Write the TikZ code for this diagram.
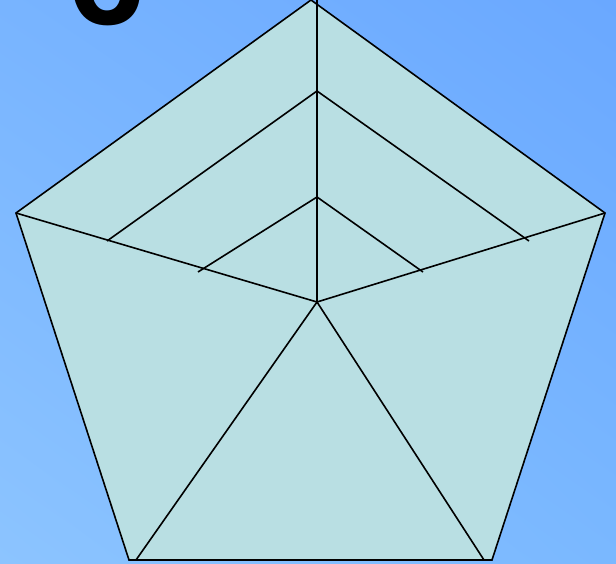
\documentclass[tikz,border=0pt]{standalone}
\usepackage{fontspec}
\setmainfont{Liberation Sans}
\usetikzlibrary{calc,shadings}
\definecolor{SkyTL}{RGB}{120,180,255}
\definecolor{SkyTR}{RGB}{106,168,255}
\definecolor{SkyBL}{RGB}{140,196,255}
\definecolor{SkyBR}{RGB}{122,184,255}
\definecolor{PaleCyan}{RGB}{185,223,227}
\begin{document}
\begin{tikzpicture}[x=1pt, y=-1pt, line join=miter]
		\useasboundingbox (0,0) rectangle (616,564);
		\shade[upper left=SkyTL, upper right=SkyTR, lower left=SkyBL, lower right=SkyBR] (0,0) rectangle (616,564);
		\node[anchor=base, inner sep=0pt, font=\fontsize{140}{140}\selectfont\bfseries] (six) at (106,25) {6};
		
		\coordinate (T) at (311,0);
		\coordinate (L) at (16,213);
		\coordinate (R) at (605,213);
		\coordinate (BL) at (129,560);
		\coordinate (BR) at (492,560);
		\coordinate (O) at (317,302); % centre
		
		\fill[PaleCyan] (T) -- (R) -- (BR) -- (BL) -- (L) -- cycle;
		\draw[line width=1.6pt] (T) -- (R) -- (BR) -- (BL) -- (L) -- cycle;
		
		% spokes
		\draw[line width=1.6pt] (O) -- (317,0);
		\draw[line width=1.6pt] (O) -- (L);
		\draw[line width=1.6pt] (O) -- (R);
		\draw[line width=1.6pt] (O) -- (136,560);
		\draw[line width=1.6pt] (O) -- (484,560);
		
		% inner levels
		\coordinate (A1) at (317,91);
		\coordinate (A2) at (317,197);
		\draw[line width=1.6pt] (107,241) -- (A1) -- (529,241);
		\draw[line width=1.6pt] (198,272) -- (A2) -- (423,272);
	\end{tikzpicture}
\end{document}
